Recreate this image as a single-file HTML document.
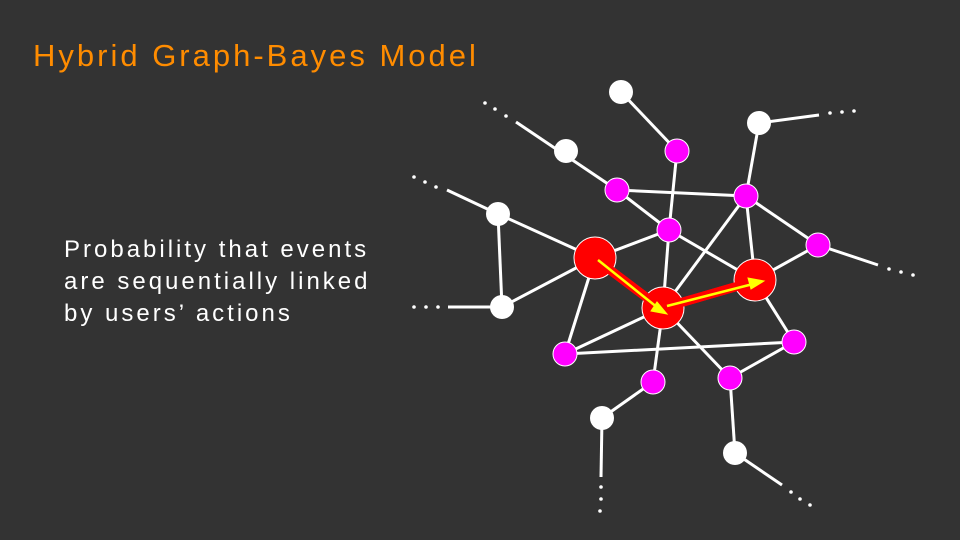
<!DOCTYPE html>
<html><head><style>
body{margin:0;background:#333333;width:960px;height:540px;overflow:hidden;position:relative;font-family:"Liberation Sans",sans-serif}
.t{position:absolute;left:33px;top:38px;color:#ff8c00;font-size:31px;letter-spacing:3px;white-space:nowrap}
.b{position:absolute;left:64px;top:234px;color:#fff;font-size:24px;line-height:32px;letter-spacing:3px;white-space:nowrap}
svg{position:absolute;left:0;top:0}
</style></head><body>
<div class="t">Hybrid Graph-Bayes Model</div>
<div class="b">Probability that events<br>are sequentially linked<br>by users’ actions</div>
<svg width="960" height="540">
<g stroke="#fff" stroke-width="3" fill="none">
<line x1="621" y1="92" x2="677" y2="151"/><line x1="677" y1="151" x2="669" y2="230"/>
<line x1="516" y1="122" x2="617" y2="190"/><line x1="617" y1="190" x2="669" y2="230"/>
<line x1="617" y1="190" x2="746" y2="196"/><line x1="759" y1="123" x2="746" y2="196"/>
<line x1="759" y1="123" x2="819" y2="115"/>
<line x1="447" y1="190" x2="498" y2="214"/><line x1="498" y1="214" x2="595" y2="258"/>
<line x1="498" y1="214" x2="502" y2="307"/><line x1="502" y1="307" x2="595" y2="258"/>
<line x1="448" y1="307" x2="502" y2="307"/>
<line x1="595" y1="258" x2="669" y2="230"/><line x1="595" y1="258" x2="565" y2="354"/>
<line x1="669" y1="230" x2="663" y2="308"/><line x1="669" y1="230" x2="755" y2="280"/>
<line x1="746" y1="196" x2="663" y2="308"/><line x1="746" y1="196" x2="755" y2="280"/>
<line x1="746" y1="196" x2="818" y2="245"/><line x1="818" y1="245" x2="755" y2="280"/>
<line x1="818" y1="245" x2="878" y2="265"/>
<line x1="663" y1="308" x2="565" y2="354"/><line x1="565" y1="354" x2="794" y2="342"/>
<line x1="663" y1="308" x2="653" y2="382"/><line x1="663" y1="308" x2="730" y2="378"/>
<line x1="730" y1="378" x2="794" y2="342"/><line x1="755" y1="280" x2="794" y2="342"/>
<line x1="653" y1="382" x2="602" y2="418"/><line x1="602" y1="418" x2="601" y2="477"/>
<line x1="730" y1="378" x2="735" y2="453"/><line x1="735" y1="453" x2="782" y2="485"/>
</g>
<g fill="#fff">
<circle cx="485" cy="103" r="1.8"/><circle cx="495" cy="109" r="1.8"/><circle cx="506" cy="116" r="1.8"/>
<circle cx="414" cy="177" r="1.8"/><circle cx="425" cy="182" r="1.8"/><circle cx="436" cy="187" r="1.8"/>
<circle cx="414" cy="307" r="1.8"/><circle cx="426" cy="307" r="1.8"/><circle cx="438" cy="307" r="1.8"/>
<circle cx="830" cy="113" r="1.8"/><circle cx="842" cy="112" r="1.8"/><circle cx="854" cy="111" r="1.8"/>
<circle cx="889" cy="269" r="1.8"/><circle cx="901" cy="272" r="1.8"/><circle cx="913" cy="275" r="1.8"/>
<circle cx="601" cy="487" r="1.8"/><circle cx="601" cy="499" r="1.8"/><circle cx="600" cy="511" r="1.8"/>
<circle cx="791" cy="492" r="1.8"/><circle cx="800" cy="499" r="1.8"/><circle cx="810" cy="505" r="1.8"/>
</g>
<g fill="#fff">
<circle cx="621" cy="92" r="12"/><circle cx="759" cy="123" r="12"/><circle cx="566" cy="151" r="12"/>
<circle cx="498" cy="214" r="12"/><circle cx="502" cy="307" r="12"/><circle cx="602" cy="418" r="12"/><circle cx="735" cy="453" r="12"/>
</g>
<g fill="#ff00ff" stroke="#fff" stroke-width="1">
<circle cx="677" cy="151" r="12"/><circle cx="617" cy="190" r="12"/><circle cx="746" cy="196" r="12"/>
<circle cx="669" cy="230" r="12"/><circle cx="818" cy="245" r="12"/><circle cx="565" cy="354" r="12"/>
<circle cx="653" cy="382" r="12"/><circle cx="730" cy="378" r="12"/><circle cx="794" cy="342" r="12"/>
</g>
<g stroke="#ff0000" stroke-width="9">
<line x1="597" y1="260" x2="663" y2="310"/><line x1="663" y1="308" x2="755" y2="281"/>
</g>
<g fill="#ff0000" stroke="#fff" stroke-width="1">
<circle cx="595" cy="258" r="21"/><circle cx="663" cy="308" r="21"/><circle cx="755" cy="280" r="21"/>
</g>
<g stroke="#ff0000" stroke-width="9">
<line x1="610" y1="270" x2="650" y2="300"/><line x1="676" y1="304" x2="742" y2="285"/>
</g>
<g stroke="#ffff00" stroke-width="2.5" fill="#ffff00">
<line x1="598" y1="260" x2="658" y2="308"/><polygon points="667,314 651,311 657,302" stroke-width="1"/>
<line x1="667" y1="306" x2="753" y2="284"/><polygon points="764,281 751,289 748,278" stroke-width="1"/>
</g>
</svg>
</body></html>
